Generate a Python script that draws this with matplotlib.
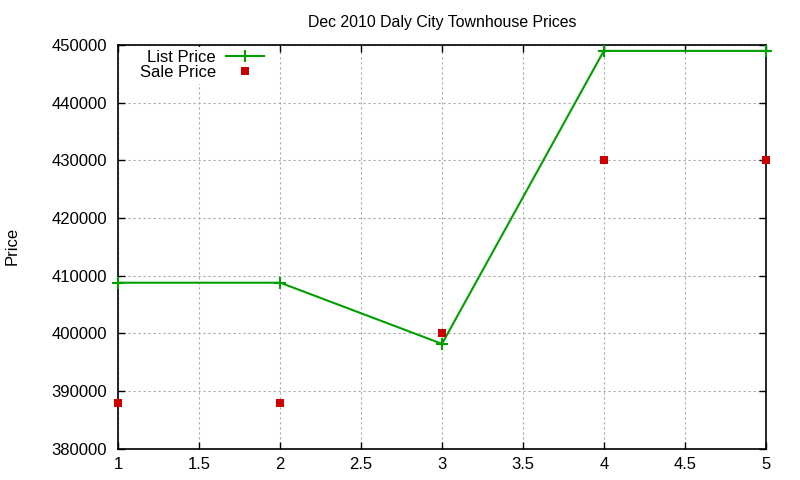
import matplotlib
matplotlib.use('Agg')
import matplotlib.pyplot as plt

# Dec 2010 Daly City townhouse prices
sale_no = [1, 2, 3, 4, 5]
list_price = [408800, 408800, 398200, 449000, 449000]
sale_price = [388000, 388000, 400000, 430000, 430000]
xticks = [1, 1.5, 2, 2.5, 3, 3.5, 4, 4.5, 5]
xtick_labels = ['1', '1.5', '2', '2.5', '3', '3.5', '4', '4.5', '5']
yticks = [380000, 390000, 400000, 410000, 420000, 430000, 440000, 450000]

plt.rcParams['font.family'] = ['Liberation Sans', 'DejaVu Sans']

fig = plt.figure(figsize=(8, 4.8), dpi=100)
ax = fig.add_axes([0.148, 0.065, 0.809, 0.841])

ax.plot(sale_no, list_price, color='#00a000', lw=1.5, marker='+',
        markersize=8, markeredgewidth=1.5, label='List Price', clip_on=False,
        zorder=3)
ax.plot(sale_no, sale_price, color='#cc0000', ls='none', marker='s',
        markersize=6, markeredgewidth=0, label='Sale Price', clip_on=False,
        zorder=4)

ax.set_xlim(1, 5)
ax.set_ylim(380000, 450000)
ax.set_xticks(xticks)
ax.set_xticklabels(xtick_labels)
ax.set_yticks(yticks)
ax.set_yticklabels([str(v) for v in yticks])
ax.tick_params(direction='in', length=5, width=1, top=True, right=True,
               labelsize=12, colors='black')
ax.tick_params(axis='y', pad=8)
ax.tick_params(axis='x', pad=6)
ax.grid(True, color='#a8a8a8', lw=0.8, ls=(0, (2, 2.5)))
for s in ax.spines.values():
    s.set_linewidth(1.2)

ax.set_title('Dec 2010 Daly City Townhouse Prices', fontsize=11.4, pad=13)
fig.text(0.015, 0.487, 'Price', rotation=90, fontsize=12, va='center',
         ha='center')

leg = ax.legend(loc='upper left', bbox_to_anchor=(0.02, 1.008), markerfirst=False,
                fontsize=12, frameon=True, framealpha=1, edgecolor='none',
                fancybox=False, numpoints=1, handlelength=2.3,
                labelspacing=0.0, borderpad=0.2, handletextpad=0.6,
                borderaxespad=0.3)
leg.get_frame().set_linewidth(0)
leg.set_zorder(5)

fig.savefig('out.png', dpi=100)
